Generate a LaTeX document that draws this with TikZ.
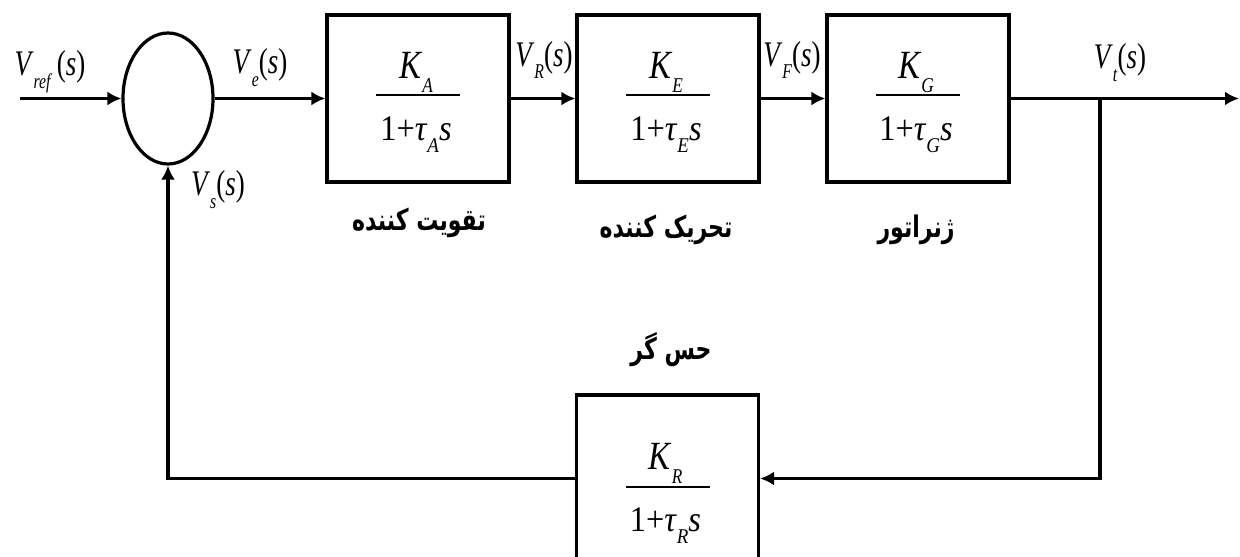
\documentclass[tikz,border=0pt]{standalone}
\usepackage{fontspec}
\usepackage{graphicx}
\setmainfont{Liberation Serif}
\newfontfamily\fa[Script=Arabic]{DejaVu Sans}
\TeXXeTstate=1
\usetikzlibrary{shapes.geometric,arrows.meta}
\newcommand{\mysub}[2]{\textit{#1}\raisebox{-0.36em}{\fontsize{21}{21}\selectfont\textit{#2}}}
\newcommand{\sqz}[2]{\scalebox{#1}[1]{#2}}
\newcommand{\tall}[1]{\scalebox{1}[1.35]{#1}}
\begin{document}
\begin{tikzpicture}[x=1pt,y=-1pt,
  blk/.style={draw, line width=3.2pt, minimum width=182pt, minimum height=167pt, inner sep=0pt},
  arr/.style={-{Latex[length=14pt,width=14pt]}, line width=3.2pt},
  sig/.style={font=\fontsize{36}{36}\selectfont, inner sep=0pt},
  num/.style={font=\fontsize{40}{40}\selectfont, inner sep=0pt, anchor=base},
  den/.style={font=\fontsize{36}{36}\selectfont, inner sep=0pt, anchor=base},
  bar/.style={fill, minimum width=84pt, minimum height=2.8pt, inner sep=0pt},
  falab/.style={font=\fa\bfseries\fontsize{22}{22}\selectfont, inner sep=0pt}]
\useasboundingbox (0,0) rectangle (1240,557);
% summing junction
\node[draw, ellipse, minimum width=90pt, minimum height=131pt, inner sep=0pt, line width=3.2pt] (sum) at (168,98.5) {};
% blocks
\node[blk] (A) at (418,98.5) {};
\node[blk] (E) at (668,98.5) {};
\node[blk] (G) at (918,98.5) {};
\node[blk] (R) at (667.5,478.5) {};
% fractions
\node[bar] (Abar) at (418,95) {};
\node[num] (Anum) at (416,78) {\sqz{0.82}{\mysub{K}{A}}};
\node[den] (Aden) at (416,140) {\sqz{0.9}{1+\mysub{τ}{A}\textit{s}}};
\node[bar] (Ebar) at (668,95) {};
\node[num] (Enum) at (666,78) {\sqz{0.82}{\mysub{K}{E}}};
\node[den] (Eden) at (666,140) {\sqz{0.9}{1+\mysub{τ}{E}\textit{s}}};
\node[bar] (Gbar) at (918,95) {};
\node[num] (Gnum) at (916,78) {\sqz{0.82}{\mysub{K}{G}}};
\node[den] (Gden) at (916,140) {\sqz{0.9}{1+\mysub{τ}{G}\textit{s}}};
\node[bar] (Rbar) at (667.5,487) {};
\node[num] (Rnum) at (665.5,469) {\sqz{0.82}{\mysub{K}{R}}};
\node[den] (Rden) at (665.5,531) {\sqz{0.9}{1+\mysub{τ}{R}\textit{s}}};
% Persian labels
\node[falab] (Alab) at (419,223) {\tall{\beginR تقویت کننده\endR}};
\node[falab] (Elab) at (666,230) {\tall{\beginR تحریک کننده\endR}};
\node[falab] (Glab) at (916,230) {\tall{\beginR ژنراتور\endR}};
\node[falab] (Rlab) at (671,350) {\tall{\beginR حس گر\endR}};
% signal labels
\node[sig] (lref) at (50,72) {\sqz{0.75}{\mysub{V}{ref}\,(\textit{s})}};
\node[sig] (le) at (260,68) {\sqz{0.75}{\mysub{V}{e}(\textit{s})}};
\node[sig] (ls) at (218,190) {\sqz{0.75}{\mysub{V}{s}(\textit{s})}};
\node[sig] (lR) at (544,60) {\sqz{0.75}{\mysub{V}{R}(\textit{s})}};
\node[sig] (lF) at (792,60) {\sqz{0.75}{\mysub{V}{F}(\textit{s})}};
\node[sig] (lt) at (1120,63) {\sqz{0.75}{\mysub{V}{t}(\textit{s})}};
% connectors
\coordinate (in) at (20,98.5);
\coordinate (out) at (1239,98.5);
\coordinate (br) at (1100,98.5);
\draw[arr] (in) -- (sum.west);
\draw[arr] (sum.east) -- (A.west);
\draw[arr] (A.east) -- (E.west);
\draw[arr] (E.east) -- (G.west);
\draw[arr] (G.east) -- (out);
\draw[arr] (br) |- (R.east);
\draw[arr] (R.west) -| (sum.south);
\end{tikzpicture}
\end{document}
